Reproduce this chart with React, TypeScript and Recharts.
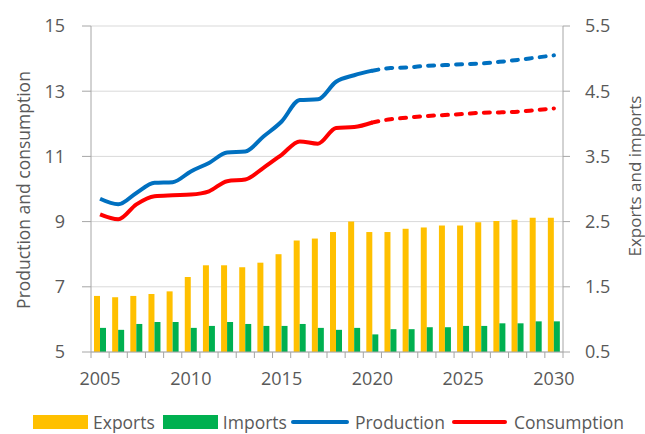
import {
  ComposedChart,
  Bar,
  Line,
  XAxis,
  YAxis,
  CartesianGrid,
} from 'recharts'

const years = [
  2005, 2006, 2007, 2008, 2009, 2010, 2011, 2012, 2013, 2014, 2015, 2016, 2017,
  2018, 2019, 2020, 2021, 2022, 2023, 2024, 2025, 2026, 2027, 2028, 2029, 2030,
]

const exportsVals = [
  1.36, 1.34, 1.36, 1.39, 1.43, 1.65, 1.83, 1.83, 1.8, 1.87, 2.0, 2.21, 2.24,
  2.34, 2.5, 2.34, 2.34, 2.39, 2.41, 2.44, 2.44, 2.49, 2.51, 2.53, 2.56, 2.56,
]

const importsVals = [
  0.87, 0.84, 0.93, 0.96, 0.96, 0.87, 0.9, 0.96, 0.93, 0.9, 0.9, 0.93, 0.87,
  0.84, 0.87, 0.77, 0.85, 0.85, 0.88, 0.88, 0.9, 0.9, 0.94, 0.94, 0.97, 0.97,
]

// history up to 2020, projection from 2020 on
const productionVals = [
  9.7, 9.53, 9.88, 10.19, 10.21, 10.54, 10.8, 11.12, 11.15, 11.61, 12.07, 12.73,
  12.75, 13.29, 13.49, 13.63, 13.71, 13.73, 13.78, 13.8, 13.83, 13.85, 13.9,
  13.96, 14.03, 14.1,
]

const consumptionVals = [
  9.22, 9.07, 9.53, 9.78, 9.81, 9.83, 9.93, 10.24, 10.29, 10.65, 11.05, 11.46,
  11.39, 11.87, 11.9, 12.04, 12.14, 12.19, 12.24, 12.27, 12.3, 12.34, 12.35,
  12.37, 12.42, 12.47,
]

const LAST_ACTUAL = 2020

const leftTicks = [5, 7, 9, 11, 13, 15]
const rightTicks = [0.5, 1.5, 2.5, 3.5, 4.5, 5.5]

const ORANGE = '#FFC000'
const GREEN = '#00B050'
const BLUE = '#0070C0'
const RED = '#FF0000'
const AXIS = '#A6A6A6'
const GRID = '#D9D9D9'
const TEXT = '#595959'
const FONT = '"Open Sans", sans-serif'

const data = years.map((year, i) => ({
  year,
  exports: exportsVals[i],
  imports: importsVals[i],
  production: year <= LAST_ACTUAL ? productionVals[i] : null,
  productionProj: year >= LAST_ACTUAL ? productionVals[i] : null,
  consumption: year <= LAST_ACTUAL ? consumptionVals[i] : null,
  consumptionProj: year >= LAST_ACTUAL ? consumptionVals[i] : null,
}))

const PLOT_W = 472
const BAND = PLOT_W / years.length

function YearTick(props: any) {
  const { x, y, payload } = props
  const year = payload.value as number
  return (
    <g>
      <line x1={x - BAND / 2} x2={x - BAND / 2} y1={y - 6} y2={y} stroke={AXIS} />
      {year === years[years.length - 1] && (
        <line x1={x + BAND / 2} x2={x + BAND / 2} y1={y - 6} y2={y} stroke={AXIS} />
      )}
      {year % 5 === 0 && (
        <text x={x} y={y} dy={27} textAnchor="middle" fill={TEXT} fontSize={18} fontFamily={FONT}>
          {year}
        </text>
      )}
    </g>
  )
}

const legendText: React.CSSProperties = {
  fontSize: 17.5,
  color: TEXT,
  fontFamily: FONT,
  lineHeight: '20px',
}

export default function App() {
  return (
    <div style={{ position: 'absolute', left: 0, top: 0, width: 645, height: 434, overflow: 'hidden', background: '#fff' }}>
      <ComposedChart
        width={645}
        height={434}
        data={data}
        margin={{ top: 26, right: 0, bottom: 42, left: 0 }}
        barCategoryGap={3}
        barGap={0}
      >
        <CartesianGrid yAxisId="left" vertical={false} stroke={GRID} />
        <XAxis
          dataKey="year"
          height={40}
          interval={0}
          tickSize={6}
          tickMargin={0}
          tickLine={false}
          axisLine={{ stroke: AXIS }}
          tick={<YearTick />}
        />
        <YAxis
          yAxisId="left"
          width={91}
          domain={[5, 15]}
          ticks={leftTicks}
          tickSize={9}
          tickMargin={17}
          tickLine={{ stroke: AXIS }}
          axisLine={{ stroke: AXIS }}
          tick={{ fontSize: 18, fill: TEXT, fontFamily: FONT }}
          label={{
            content: () => (
              <text x={23} y={190} transform="rotate(-90 23 190)" textAnchor="middle" dominantBaseline="central" fontSize={17.5} fill={TEXT} fontFamily={FONT}>
                Production and consumption
              </text>
            ),
          }}
        />
        <YAxis
          yAxisId="right"
          orientation="right"
          width={82}
          domain={[0.5, 5.5]}
          ticks={rightTicks}
          tickFormatter={(v: number) => v.toFixed(1)}
          tickSize={7}
          tickMargin={15}
          tickLine={{ stroke: AXIS }}
          axisLine={{ stroke: AXIS }}
          tick={{ fontSize: 18, fill: TEXT, fontFamily: FONT }}
          label={{
            content: () => (
              <text x={634} y={176} transform="rotate(-90 634 176)" textAnchor="middle" dominantBaseline="central" fontSize={17} fill={TEXT} fontFamily={FONT}>
                Exports and imports
              </text>
            ),
          }}
        />
        <Bar yAxisId="right" dataKey="exports" fill={ORANGE} isAnimationActive={false} />
        <Bar yAxisId="right" dataKey="imports" fill={GREEN} isAnimationActive={false} />
        <Line yAxisId="left" type="monotone" dataKey="production" stroke={BLUE} strokeWidth={4} dot={false} isAnimationActive={false} />
        <Line yAxisId="left" type="monotone" dataKey="productionProj" stroke={BLUE} strokeWidth={4} strokeDasharray="6 8" strokeLinecap="round" dot={false} isAnimationActive={false} />
        <Line yAxisId="left" type="monotone" dataKey="consumption" stroke={RED} strokeWidth={4} dot={false} isAnimationActive={false} />
        <Line yAxisId="left" type="monotone" dataKey="consumptionProj" stroke={RED} strokeWidth={4} strokeDasharray="6 8" strokeLinecap="round" dot={false} isAnimationActive={false} />
      </ComposedChart>

      <div style={{ position: 'absolute', left: 33, top: 412, height: 20, display: 'flex', alignItems: 'center', whiteSpace: 'nowrap' }}>
        <span style={{ width: 55, height: 14, background: ORANGE }} />
        <span style={{ ...legendText, marginLeft: 5 }}>Exports</span>
        <span style={{ width: 55, height: 14, background: GREEN, marginLeft: 8 }} />
        <span style={{ ...legendText, marginLeft: 5 }}>Imports</span>
        <span style={{ width: 58, height: 4, borderRadius: 2, background: BLUE, marginLeft: 4 }} />
        <span style={{ ...legendText, marginLeft: 6 }}>Production</span>
        <span style={{ width: 55, height: 4, borderRadius: 2, background: RED, marginLeft: 7 }} />
        <span style={{ ...legendText, marginLeft: 7 }}>Consumption</span>
      </div>
    </div>
  )
}
